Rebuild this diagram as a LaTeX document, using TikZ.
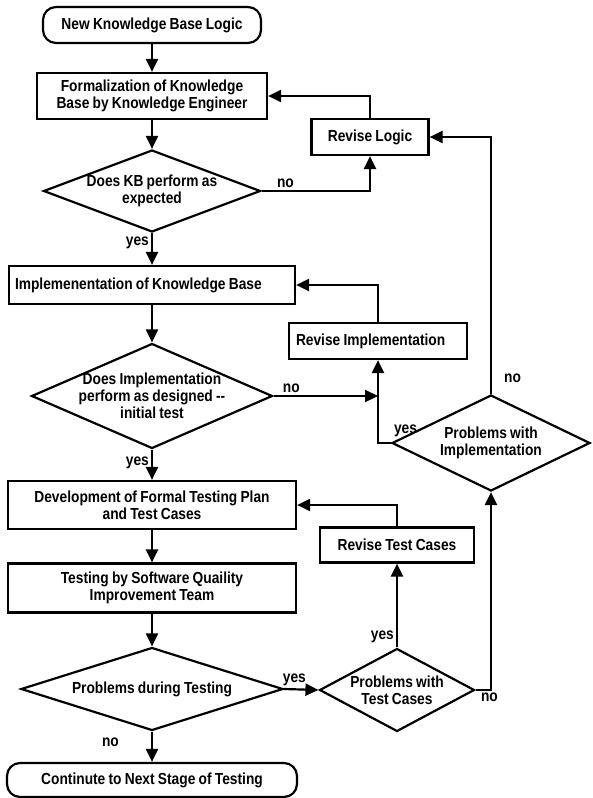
\documentclass[tikz,border=0pt]{standalone}
\usepackage{fontspec}
\setmainfont{Liberation Sans}[FakeStretch=0.86, WordSpace=0.85]
\usetikzlibrary{arrows.meta,shapes.geometric,positioning,calc}

\newcommand{\flowfont}{\bfseries\fontsize{16}{17}\selectfont}

\begin{document}
\begin{tikzpicture}[x=1pt, y=-1pt, line width=2.2pt,
    box/.style={draw, rectangle, align=center, inner sep=3pt, font=\flowfont},
    terminal/.style={box, rounded corners=13pt},
    decision/.style={draw, diamond, inner sep=0pt},
    dtext/.style={align=center, font=\flowfont, inner sep=0pt},
    answer/.style={font=\flowfont, inner sep=2pt},
    flow/.style={-{Triangle[length=13pt, width=12pt]}}]
    \useasboundingbox (0,0) rectangle (592,798);

    % Main column, top to bottom
    \node[terminal, minimum width=218, minimum height=36] (start) at (152,25) {New Knowledge Base Logic};
    \node[box, minimum width=230, minimum height=46] (form) at (152,96) {Formalization of Knowledge\\Base by Knowledge Engineer};
    \node[decision, minimum width=217, minimum height=82, label={[dtext]center:Does KB perform as\\expected}] (kbok) at (152,191) {};
    \node[box, minimum width=286, minimum height=38, text width=274, align=flush left, inner xsep=6pt] (impl) at (152,285) {Implemenentation of Knowledge Base};
    \node[decision, minimum width=241, minimum height=105, label={[dtext]center:Does Implementation\\perform as designed -{}-\\initial test}] (implok) at (152,396) {};
    \node[box, minimum width=288, minimum height=48] (plan) at (152,505) {Development of Formal Testing Plan\\and Test Cases};
    \node[box, minimum width=288, minimum height=49] (sqit) at (152,588) {Testing by Software Quaility\\Improvement Team};
    \node[decision, minimum width=262, minimum height=83, label={[dtext]center:Problems during Testing}] (probtest) at (152,689) {};
    \node[terminal, minimum width=290, minimum height=34] (next) at (152,780) {Continute to Next Stage of Testing};

    % Revision loop on the right
    \node[box, minimum width=117, minimum height=36] (revlogic) at (370,137) {Revise Logic};
    \node[box, minimum width=178, minimum height=36, text width=164, align=flush left, inner xsep=7pt] (revimpl) at (378,341) {Revise Implementation};
    \node[box, minimum width=154, minimum height=35] (revcases) at (397,545) {Revise Test Cases};
    \node[decision, minimum width=198, minimum height=96, label={[dtext]center:Problems with\\Implementation}] (probimpl) at (491,443) {};
    \node[decision, minimum width=155, minimum height=83, label={[dtext]center:Problems with\\Test Cases}] (probcases) at (397,690) {};

    % Main flow arrows
    \draw[flow] (start) -- (form);
    \draw[flow] (form) -- (kbok);
    \draw[flow] (kbok) -- node[answer, left, pos=0.3] {yes} (impl);
    \draw[flow] (impl) -- (implok);
    \draw[flow] (implok) -- node[answer, left, pos=0.45] {yes} (plan);
    \draw[flow] (plan) -- (sqit);
    \draw[flow] (sqit) -- (probtest);
    \draw[flow] (probtest) -- node[answer, left=30pt, pos=0.35] {no} (next);

    % Logic revision
    \draw[flow] (kbok.east) -| node[answer, above, pos=0.11] {no} (revlogic.south);
    \draw[flow] (revlogic.north) |- (form.east);

    % Implementation revision
    \coordinate (join) at (revimpl.south |- implok.east);
    \draw[flow] (implok.east) -- node[answer, above, pos=0.17] {no} (join);
    \draw[flow] (probimpl.west) -| node[answer, above right, pos=0, yshift=3pt] {yes} (revimpl.south);
    \draw[flow] (revimpl.north) |- (impl.east);
    \draw[flow] (probimpl.north) |- node[answer, right=10pt, pos=0.03] {no} (revlogic.east);

    % Test case revision
    \draw[flow] (probtest.east) -- node[answer, above, pos=0.3] {yes} (probcases.west);
    \draw[flow] (probcases.north) -- node[answer, left, pos=0.13] {yes} (revcases.south);
    \draw[flow] (revcases.north) |- (plan.east);
    \draw[flow] (probcases.east) -| node[answer, below, pos=0.45] {no} (probimpl.south);
\end{tikzpicture}
\end{document}
